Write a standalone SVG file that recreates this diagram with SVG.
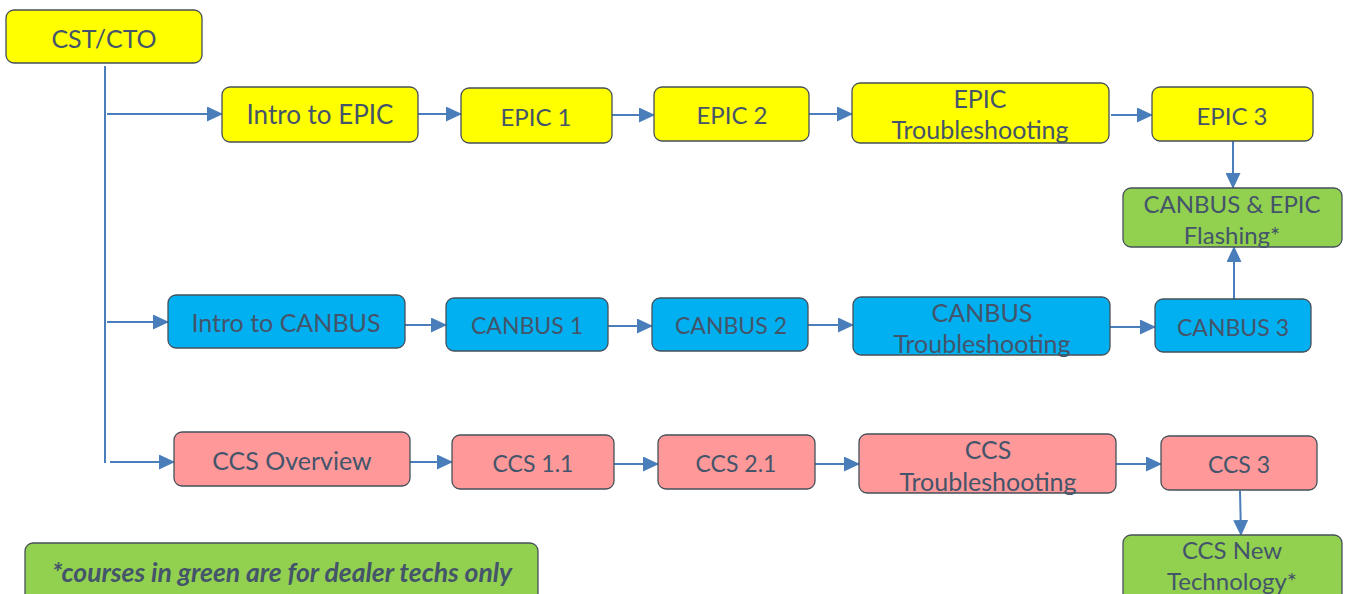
<svg xmlns="http://www.w3.org/2000/svg" width="1350" height="594" viewBox="0 0 1350 594">
<style>
.n{stroke:#46505a;stroke-width:1.3}
.y{fill:#ffff00}.b{fill:#00b0f0}.p{fill:#ff9999}.g{fill:#92d050}
text{font-family:Lato,"Liberation Sans",sans-serif;fill:#44546a;text-anchor:middle;dominant-baseline:central}
.t26{font-size:26px}.t25{font-size:25px}.t24{font-size:24px}.t23{font-size:23px}
.leg{font-size:26.5px;font-weight:bold;font-style:italic}
.c{stroke:#4a7ebb;stroke-width:2;fill:none}
.ca{stroke:#4a7ebb;stroke-width:2;fill:none;marker-end:url(#ah)}
</style>
<defs>
<marker id="ah" markerUnits="userSpaceOnUse" markerWidth="16" markerHeight="15" refX="15" refY="7.5" orient="auto">
<path d="M0,0 L16,7.5 L0,15 z" fill="#4a7ebb"/>
</marker>
</defs>
<rect width="1350" height="594" fill="#ffffff"/>
<g id="connectors">
<path class="c" d="M105,66 V463"/>
<path class="ca" d="M107,114 H222"/>
<path class="ca" d="M107,322 H168"/>
<path class="ca" d="M110,462 H174"/>
<path class="ca" d="M418,114 H461"/>
<path class="ca" d="M612,115 H654"/>
<path class="ca" d="M809,114 H852"/>
<path class="ca" d="M1111,115 H1152"/>
<path class="ca" d="M1233,141 V188"/>
<path class="ca" d="M1234,299 V247"/>
<path class="ca" d="M405,325 H446"/>
<path class="ca" d="M608,326 H652"/>
<path class="ca" d="M808,325 H853"/>
<path class="ca" d="M1110,327 H1155"/>
<path class="ca" d="M410,462 H452"/>
<path class="ca" d="M614,464 H658"/>
<path class="ca" d="M815,464 H859"/>
<path class="ca" d="M1116,464 H1161"/>
<path class="ca" d="M1240,491 L1241,535"/>
</g>
<g id="cst"><rect class="n y" x="6" y="10" width="196" height="53" rx="8"/><text class="t25" x="104" y="38">CST/CTO</text></g>
<g id="introEpic"><rect class="n y" x="222" y="87" width="196" height="55" rx="8"/><text class="t26" x="320" y="114">Intro to EPIC</text></g>
<g id="epic1"><rect class="n y" x="461" y="88" width="151" height="55" rx="8"/><text class="t24" x="536" y="116">EPIC 1</text></g>
<g id="epic2"><rect class="n y" x="654" y="87" width="155" height="54" rx="8"/><text class="t24" x="732" y="114">EPIC 2</text></g>
<g id="epicTs"><rect class="n y" x="852" y="83" width="257" height="60" rx="8"/><text class="t25" x="980" y="98">EPIC</text><text class="t25" x="980" y="129">Troubleshooting</text></g>
<g id="epic3"><rect class="n y" x="1152" y="87" width="161" height="54" rx="8"/><text class="t24" x="1232" y="115">EPIC 3</text></g>
<g id="flash"><rect class="n g" x="1123" y="188" width="219" height="59" rx="8"/><text class="t24" x="1232" y="203">CANBUS &amp; EPIC</text><text class="t24" x="1232" y="234">Flashing*</text></g>
<g id="introCan"><rect class="n b" x="168" y="295" width="237" height="53" rx="8"/><text class="t25" x="286" y="322">Intro to CANBUS</text></g>
<g id="can1"><rect class="n b" x="446" y="298" width="162" height="53" rx="8"/><text class="t23" x="527" y="325">CANBUS 1</text></g>
<g id="can2"><rect class="n b" x="652" y="298" width="156" height="53" rx="8"/><text class="t23" x="731" y="325">CANBUS 2</text></g>
<g id="canTs"><rect class="n b" x="853" y="297" width="257" height="58" rx="8"/><text class="t25" x="982" y="312">CANBUS</text><text class="t25" x="982" y="343">Troubleshooting</text></g>
<g id="can3"><rect class="n b" x="1155" y="299" width="156" height="53" rx="8"/><text class="t23" x="1233" y="327">CANBUS 3</text></g>
<g id="ccsOv"><rect class="n p" x="174" y="432" width="236" height="54" rx="8"/><text class="t25" x="292" y="460">CCS Overview</text></g>
<g id="ccs11"><rect class="n p" x="452" y="435" width="162" height="54" rx="8"/><text class="t23" x="533" y="463">CCS 1.1</text></g>
<g id="ccs21"><rect class="n p" x="658" y="435" width="157" height="54" rx="8"/><text class="t23" x="736" y="463">CCS 2.1</text></g>
<g id="ccsTs"><rect class="n p" x="859" y="434" width="257" height="59" rx="8"/><text class="t25" x="988" y="449">CCS</text><text class="t25" x="988" y="481">Troubleshooting</text></g>
<g id="ccs3"><rect class="n p" x="1161" y="436" width="156" height="54" rx="8"/><text class="t23" x="1239" y="464">CCS 3</text></g>
<g id="ccsNew"><rect class="n g" x="1123" y="535" width="219" height="70" rx="8"/><text class="t24" x="1232" y="549">CCS New</text><text class="t24" x="1232" y="580">Technology*</text></g>
<g id="legend"><rect class="n g" x="25" y="543" width="513" height="62" rx="8"/><text class="leg" x="282" y="572">*courses in green are for dealer techs only</text></g>
</svg>
